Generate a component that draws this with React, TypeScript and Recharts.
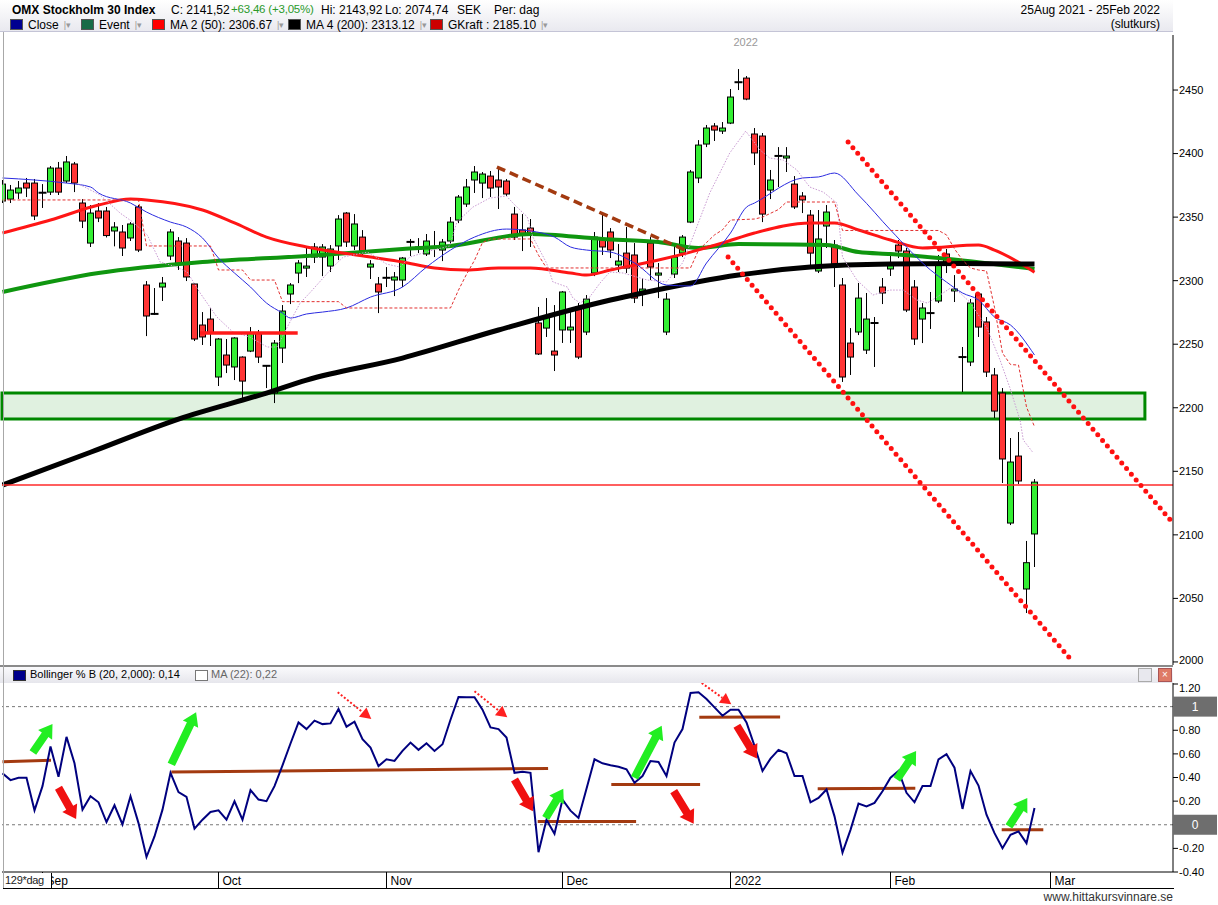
import React from 'react';
import { ComposedChart, Bar, Line, XAxis, YAxis, ReferenceLine, ReferenceArea } from 'recharts';

const FONT = '"Liberation Sans", Arial, Helvetica, sans-serif';

// ---- daily candles (trading-day index 0 = 25 Aug 2021 ... 129 = 25 Feb 2022)
const openArr = [
  2362.7, 2364.2, 2369.0, 2376.8, 2376.8, 2369.4, 2369.7, 2388.6, 2378.4, 2391.8,
  2361.1, 2329.6, 2354.8, 2354.8, 2339.1, 2338.3, 2333.6, 2358.0, 2296.6, 2274.0,
  2295.0, 2319.4, 2331.2, 2329.6, 2297.4, 2265.1, 2269.8, 2224.2, 2241.5, 2232.1,
  2239.9, 2244.6, 2258.8, 2233.2, 2211.6, 2247.0, 2289.5, 2306.0, 2309.9, 2318.6,
  2318.6, 2311.5, 2327.3, 2353.2, 2327.3, 2334.3, 2310.7, 2297.4, 2302.4, 2300.5,
  2300.5, 2330.6, 2326.5, 2321.0, 2326.7, 2324.1, 2331.2, 2347.7, 2360.3, 2379.2,
  2376.8, 2382.3, 2379.2, 2378.4, 2352.4, 2339.9, 2341.4, 2266.7, 2262.7, 2244.6,
  2261.2, 2261.2, 2279.3, 2259.6, 2306.0, 2332.8, 2338.3, 2312.3, 2321.7, 2320.2,
  2289.5, 2329.6, 2304.4, 2259.6, 2305.2, 2321.7, 2346.1, 2380.8, 2407.5, 2421.7,
  2417.7, 2424.0, 2456.3, 2459.4, 2415.4, 2413.8, 2371.3, 2398.3, 2396.5, 2376.0,
  2366.6, 2351.6, 2307.6, 2343.0, 2328.0, 2296.6, 2250.9, 2259.6, 2245.4, 2266.9,
  2295.0, 2309.2, 2328.0, 2323.3, 2295.0, 2269.8, 2274.3, 2284.0, 2321.0, 2291.9,
  2240.1, 2236.0, 2289.5, 2267.5, 2225.8, 2211.6, 2109.3, 2162.0, 2057.4, 2100.7,
];
const highArr = [
  2379.2, 2375.3, 2378.4, 2380.8, 2380.0, 2376.0, 2390.2, 2393.4, 2398.1, 2393.4,
  2364.2, 2359.5, 2361.1, 2358.0, 2346.1, 2343.8, 2346.1, 2359.5, 2299.7, 2294.2,
  2302.9, 2340.6, 2334.3, 2333.5, 2298.1, 2275.3, 2278.3, 2254.9, 2254.1, 2255.5,
  2240.5, 2263.5, 2261.2, 2233.6, 2253.3, 2280.8, 2298.1, 2316.2, 2326.5, 2329.6,
  2328.8, 2328.0, 2351.6, 2354.0, 2352.4, 2339.8, 2316.2, 2302.9, 2310.7, 2306.8,
  2318.6, 2332.8, 2333.5, 2336.7, 2339.1, 2332.8, 2350.1, 2367.4, 2380.0, 2390.2,
  2385.5, 2386.3, 2389.4, 2380.0, 2358.0, 2352.4, 2348.5, 2279.3, 2286.3, 2280.8,
  2291.8, 2275.3, 2282.4, 2288.7, 2338.3, 2352.4, 2341.4, 2328.8, 2342.2, 2329.6,
  2302.1, 2334.3, 2313.9, 2290.3, 2328.0, 2335.9, 2387.1, 2410.6, 2422.5, 2424.0,
  2424.8, 2450.8, 2466.5, 2461.0, 2420.1, 2416.2, 2387.1, 2405.1, 2405.1, 2382.3,
  2369.7, 2355.6, 2355.6, 2359.5, 2332.0, 2302.1, 2262.7, 2298.2, 2290.3, 2271.4,
  2302.1, 2321.8, 2332.0, 2325.7, 2300.5, 2282.4, 2291.1, 2320.2, 2324.9, 2304.4,
  2247.8, 2285.6, 2291.1, 2271.4, 2231.3, 2215.5, 2176.2, 2180.9, 2095.2, 2143.9,
];
const lowArr = [
  2361.1, 2361.1, 2364.3, 2365.8, 2347.7, 2357.2, 2367.4, 2367.4, 2376.8, 2369.7,
  2341.4, 2326.5, 2346.1, 2334.0, 2327.0, 2319.4, 2331.2, 2322.5, 2256.4, 2273.0,
  2284.0, 2316.2, 2308.4, 2299.7, 2252.5, 2249.4, 2248.6, 2217.1, 2227.3, 2221.8,
  2206.1, 2243.8, 2235.2, 2215.5, 2203.7, 2235.2, 2281.6, 2298.1, 2302.9, 2313.9,
  2303.6, 2306.8, 2316.2, 2326.5, 2324.1, 2320.2, 2301.3, 2274.5, 2295.0, 2287.9,
  2295.0, 2319.4, 2321.7, 2319.4, 2318.6, 2315.4, 2328.0, 2345.3, 2358.0, 2369.0,
  2365.0, 2365.8, 2356.4, 2366.6, 2332.0, 2323.3, 2326.5, 2241.5, 2255.7, 2228.9,
  2251.0, 2251.0, 2238.3, 2257.2, 2303.6, 2320.2, 2317.8, 2306.8, 2306.0, 2282.4,
  2280.0, 2300.5, 2286.3, 2257.2, 2302.1, 2318.6, 2345.3, 2376.8, 2405.1, 2409.9,
  2415.4, 2423.2, 2450.0, 2442.0, 2391.0, 2346.1, 2364.2, 2373.7, 2385.5, 2356.4,
  2353.2, 2312.3, 2306.0, 2325.7, 2295.0, 2220.3, 2225.8, 2257.2, 2242.3, 2232.1,
  2281.6, 2303.7, 2317.8, 2275.3, 2249.4, 2250.9, 2262.0, 2282.4, 2306.0, 2283.2,
  2212.4, 2232.8, 2255.7, 2224.2, 2191.9, 2140.8, 2107.7, 2140.0, 2038.5, 2074.7,
];
const closeArr = [
  2376.0, 2371.3, 2372.9, 2372.9, 2350.9, 2369.0, 2388.6, 2369.7, 2393.4, 2376.8,
  2346.9, 2353.2, 2349.3, 2335.5, 2342.2, 2325.7, 2344.6, 2324.1, 2272.2, 2273.7,
  2298.1, 2338.3, 2313.1, 2302.9, 2254.1, 2255.7, 2258.8, 2254.1, 2233.6, 2254.9,
  2221.0, 2258.8, 2239.9, 2232.8, 2250.9, 2276.1, 2296.6, 2313.9, 2311.5, 2326.5,
  2326.5, 2324.9, 2348.5, 2330.4, 2344.6, 2323.3, 2313.1, 2291.1, 2302.1, 2302.9,
  2317.8, 2330.4, 2324.9, 2331.2, 2326.5, 2330.4, 2346.1, 2365.8, 2373.7, 2385.5,
  2383.9, 2372.9, 2373.7, 2368.2, 2334.3, 2336.7, 2335.9, 2242.3, 2271.4, 2241.5,
  2291.1, 2263.5, 2239.9, 2285.5, 2334.3, 2326.5, 2324.1, 2315.4, 2309.9, 2286.3,
  2293.4, 2310.7, 2306.0, 2285.5, 2318.6, 2334.3, 2385.5, 2406.7, 2420.1, 2418.5,
  2420.1, 2444.5, 2456.0, 2442.9, 2400.5, 2352.4, 2379.2, 2398.0, 2398.1, 2358.0,
  2363.5, 2321.7, 2332.8, 2354.0, 2313.1, 2224.2, 2239.9, 2286.3, 2269.8, 2266.5,
  2290.3, 2313.1, 2323.3, 2276.9, 2254.1, 2278.5, 2274.7, 2313.9, 2313.9, 2293.4,
  2239.7, 2282.4, 2263.5, 2228.1, 2197.4, 2159.7, 2157.3, 2142.4, 2078.1, 2141.5,
];

// ---- Bollinger %B (20, 2)
const pctB = [
  0.435, 0.378, 0.398, 0.398, 0.122, 0.327, 0.662, 0.406, 0.744, 0.520,
  0.128, 0.241, 0.190, 0.023, 0.165, 0.003, 0.241, 0.014, -0.273, -0.099,
  0.128, 0.440, 0.276, 0.236, -0.034, 0.043, 0.108, 0.122, 0.043, 0.199,
  0.043, 0.293, 0.213, 0.199, 0.327, 0.503, 0.688, 0.866, 0.810, 0.881,
  0.852, 0.858, 0.980, 0.830, 0.872, 0.724, 0.653, 0.497, 0.554, 0.540,
  0.625, 0.696, 0.634, 0.690, 0.625, 0.682, 0.889, 1.082, 1.080, 1.080,
  0.974, 0.824, 0.810, 0.739, 0.440, 0.449, 0.440, -0.233, 0.043, -0.077,
  0.213, 0.119, 0.057, 0.304, 0.554, 0.520, 0.503, 0.491, 0.469, 0.355,
  0.412, 0.540, 0.531, 0.412, 0.696, 0.810, 1.116, 1.122, 1.065, 0.994,
  0.923, 0.974, 0.974, 0.866, 0.668, 0.455, 0.560, 0.634, 0.605, 0.412,
  0.412, 0.190, 0.227, 0.298, 0.071, -0.236, -0.043, 0.179, 0.156, 0.185,
  0.284, 0.398, 0.455, 0.270, 0.190, 0.327, 0.327, 0.554, 0.597, 0.483,
  0.134, 0.455, 0.332, 0.085, -0.071, -0.199, -0.085, -0.057, -0.156, 0.142,
];

// ---- moving averages / indicator lines, read as [index, value]
const ma200Pts = [[0, 2139.2], [11, 2165], [22, 2191.1], [33, 2211.6], [38, 2221.8], [50, 2239.1], [62, 2261.2], [76, 2284.8], [80, 2290.3], [92, 2304.4], [101, 2310.7], [111, 2313.1], [120, 2313.5], [129, 2313.1]];
const ma100Pts = [[0, 2291.1], [12, 2306.0], [25, 2314.7], [38, 2319.4], [50, 2324.9], [56, 2327.3], [66, 2336.7], [75, 2332.8], [82, 2330.4], [87, 2325.7], [92, 2328.8], [103, 2328.0], [107, 2322.5], [111, 2320.9], [117, 2317.8], [129, 2309.2]];
const ma50Pts = [[0, 2337.5], [6, 2347.7], [12, 2359.5], [16, 2364.2], [18, 2363.5], [25, 2355.6], [29, 2345.4], [33, 2334.3], [38, 2326.5], [46, 2318.6], [50, 2314.7], [54, 2310.0], [58, 2308.4], [62, 2310.0], [66, 2310.0], [71, 2306.0], [73, 2304.4], [76, 2308.4], [82, 2316.2], [86, 2322.5], [90, 2329.6], [94, 2337.5], [101, 2345.4], [104, 2345.4], [107, 2339.9], [111, 2332.0], [115, 2325.7], [122, 2328.0], [124, 2324.1], [129, 2306.7]];
const ma20Pts = [[0, 2380.8], [4, 2379.2], [8, 2376.8], [11, 2373.7], [12, 2369.0], [16, 2361.1], [18, 2354.0], [21, 2346.1], [23, 2342.2], [25, 2333.6], [27, 2317.8], [29, 2306.0], [31, 2295.0], [33, 2282.4], [35, 2274.5], [36, 2270.6], [38, 2273.8], [40, 2275.3], [43, 2278.5], [46, 2287.1], [50, 2295.0], [53, 2310.7], [56, 2324.1], [59, 2334.3], [63, 2340.6], [66, 2339.1], [69, 2334.3], [71, 2326.5], [73, 2324.1], [76, 2322.5], [79, 2313.9], [83, 2296.6], [86, 2295.8], [88, 2313.9], [91, 2337.5], [93, 2357.9], [94, 2361.1], [100, 2380.8], [102, 2381.6], [104, 2384.7], [107, 2367.4], [111, 2339.9], [116, 2308.4], [118, 2298.9], [120, 2290.3], [122, 2284.8], [124, 2271.4], [126, 2265.1], [129, 2241.5]];
const gkraftPts = [[0, 2363.5], [17, 2363.5], [18, 2327.3], [26, 2327.3], [27, 2308.4], [30, 2308.4], [31, 2300.5], [34, 2300.5], [35, 2283.5], [42, 2283.5], [43, 2278.5], [56, 2278.5], [57, 2292.6], [58, 2305], [59, 2316], [60, 2330], [61, 2332.8], [66, 2332.8], [67, 2320], [68, 2310], [86, 2310], [87, 2324], [88, 2330], [89, 2336], [90, 2340], [91, 2347.7], [94, 2348.5], [95, 2350], [96, 2353], [97, 2356], [98, 2361.9], [104, 2361.9], [105, 2339.5], [117, 2339.5], [118, 2336], [119, 2325], [120, 2316.2], [121, 2310], [122, 2308.4], [123, 2307.6], [124, 2279], [125, 2243], [126, 2234], [127, 2233.6], [128, 2200.6], [129, 2185.1]];
const fastPts = [[9.3, 2376.8], [12.2, 2367.4], [14.7, 2353.2], [16.3, 2346.1], [18.1, 2335.9], [19.7, 2314.7], [21.8, 2310.7], [23.1, 2306.8], [24.7, 2290.3], [26.8, 2271.4], [28.8, 2259.6], [30.9, 2255.7], [33.1, 2247.8], [34.3, 2247.8], [35.6, 2263.5], [37.2, 2282.4], [38.4, 2290.3], [41.3, 2310.7], [42.6, 2318.6], [45.6, 2322.5], [46.3, 2320.2], [48, 2313.1], [49.7, 2310.7], [50.9, 2318.6], [53.8, 2324.1], [55.9, 2327.3], [56.8, 2346.1], [58.8, 2357.9], [60.9, 2365.0], [63, 2366.6], [63.8, 2361.1], [65.6, 2350.1], [66.3, 2334.3], [68, 2313.9], [68.8, 2299.0], [70.6, 2295.0], [71.3, 2286.3], [72.2, 2282.4], [73.4, 2287.1], [74.7, 2298.2], [75.9, 2306.8], [77.6, 2306.0], [80.6, 2300.5], [83, 2299.0], [85, 2313.9], [86.3, 2334.3], [88.4, 2368.9], [90.9, 2400.4], [92.9, 2417.7], [94.7, 2402.8], [95.9, 2396.5], [97.6, 2394.9], [99.3, 2387.1], [100.9, 2373.7], [102.6, 2369.7], [104.3, 2361.1], [105, 2318.6], [106.8, 2300.5], [108.8, 2288.7], [110.9, 2292.6], [112.6, 2292.6], [114.3, 2284.8], [115.6, 2282.4], [116.8, 2287.1], [118.5, 2294.2], [119.7, 2290.3], [120.9, 2283.2], [123, 2263.5], [124.7, 2237.4], [125.9, 2216.1], [127.2, 2190.2], [127.6, 2174.6], [128.8, 2164.8]];

// ---- axes
const priceTicks = [2000, 2050, 2100, 2150, 2200, 2250, 2300, 2350, 2400, 2450];
const pbTicks = [-0.4, -0.2, 0, 0.2, 0.4, 0.6, 0.8, 1, 1.2];
const monthTickIdx = [5, 27, 48, 70, 91, 111, 131];
const monthTickLabels = ['Sep', 'Oct', 'Nov', 'Dec', '2022', 'Feb', 'Mar'];
const X_DOMAIN: [number, number] = [-0.0625, 146.3125];
const PRICE_DOMAIN: [number, number] = [1997.6, 2493.3];
const PB_DOMAIN: [number, number] = [-0.4, 1.2];

// ---- drawn annotations (data coordinates)
const supportZone = { x1: -0.0625, x2: 142.8, y1: 2191.2, y2: 2211.6 };
const horizontalLevel = 2139.2;
const shortLevel = { x1: 24.7, x2: 36.9, y: 2258.8 };
const brownTrend = [[61.8, 2389.4], [85.7, 2323.0]];
const channelUpper = [[105.7, 2409.1], [146.2, 2110.1]];
const channelLower = [[90.7, 2318.6], [133.6, 2001.5]];

const pbLevels = [[0, 0.534, 6.06, 0.545], [21.1, 0.446, 68.2, 0.477], [66.9, 0.028, 79.2, 0.028], [76.1, 0.341, 87.2, 0.341], [87.1, 0.91, 97.2, 0.912], [101.9, 0.304, 114.1, 0.31], [124.9, -0.043, 130.1, -0.043]];
const greenArrows = [[3.8, 0.611, 6.25, 0.852], [21.1, 0.511, 24.2, 0.952], [67.9, 0.057, 70.1, 0.304], [79.0, 0.398, 82.4, 0.838], [111.8, 0.384, 114.2, 0.625], [125.8, -0.014, 128.1, 0.227]];
const redArrows = [[7.0, 0.3125, 9.2, 0.048], [64.0, 0.384, 66.3, 0.114], [83.9, 0.284, 86.4, 0.009], [91.8, 0.838, 94.3, 0.56]];
const dottedArrows = [[41.9, 1.122, 46.1, 0.895], [59.0, 1.13, 63.1, 0.909], [87.4, 1.2, 91.1, 1.02]];

const candles = openArr.map((o, i) => ({ i, o, h: highArr[i], l: lowArr[i], c: closeArr[i] }));
const toObjs = (pts: number[][]) => pts.map(([i, v]) => ({ i, v }));
const pbData = pctB.map((v, i) => ({ i, v }));

function Candle(props: any) {
  const { x, y, width, height, payload } = props;
  if (payload == null || x == null || y == null) return null;
  const { o, h, l, c } = payload;
  const cx = Math.round(x + width / 2) + 0.5;
  const span = h - l || 1;
  const py = (v: number) => y + ((h - v) / span) * height;
  const top = py(Math.max(o, c));
  const bot = py(Math.min(o, c));
  const wick = <line x1={cx} x2={cx} y1={y} y2={y + height} stroke="#000" strokeWidth={1} />;
  if (bot - top < 1.2) {
    const m = (top + bot) / 2;
    return (
      <g>
        {wick}
        <line x1={cx - 4} x2={cx + 4} y1={m} y2={m} stroke="#000" strokeWidth={2} />
      </g>
    );
  }
  return (
    <g>
      {wick}
      <rect x={cx - 3} y={top} width={6} height={bot - top} fill={c >= o ? '#33ee33' : '#ff3535'} stroke="#000" strokeWidth={1} />
    </g>
  );
}

function BlockArrow(p: any) {
  const { x1, y1, x2, y2, color } = p;
  const dx = x2 - x1, dy = y2 - y1;
  const len = Math.hypot(dx, dy) || 1;
  const ux = dx / len, uy = dy / len, nx = -uy, ny = ux;
  const sh = 4, hw = 8.5, hl = 13;
  const bx = x2 - ux * hl, by = y2 - uy * hl;
  const pts = [
    [x1 + nx * sh, y1 + ny * sh], [bx + nx * sh, by + ny * sh], [bx + nx * hw, by + ny * hw], [x2, y2],
    [bx - nx * hw, by - ny * hw], [bx - nx * sh, by - ny * sh], [x1 - nx * sh, y1 - ny * sh],
  ].map((q) => q.join(',')).join(' ');
  return <polygon points={pts} fill={color} />;
}

function DottedArrow(p: any) {
  const { x1, y1, x2, y2 } = p;
  const dx = x2 - x1, dy = y2 - y1;
  const len = Math.hypot(dx, dy) || 1;
  const ux = dx / len, uy = dy / len, nx = -uy, ny = ux;
  const hw = 6, hl = 11;
  const bx = x2 - ux * hl, by = y2 - uy * hl;
  const pts = [[bx + nx * hw, by + ny * hw], [x2, y2], [bx - nx * hw, by - ny * hw]].map((q) => q.join(',')).join(' ');
  return (
    <g>
      <line x1={x1} y1={y1} x2={bx} y2={by} stroke="#ff2020" strokeWidth={2} strokeDasharray="2 2" />
      <polygon points={pts} fill="#ff2020" />
    </g>
  );
}

function PriceTick(props: any) {
  const { x, y, payload } = props;
  const ty = payload.value === 2000 ? y - 2 : y;
  return (
    <text x={x} y={ty} dy="0.355em" fill="#000" fontSize={11} fontFamily={FONT}>{payload.value}</text>
  );
}

function PbTick(props: any) {
  const { x, y, payload } = props;
  const v = payload.value;
  const ax = x - 6;
  if (v === 1 || v === 0) {
    return (
      <g>
        <rect x={ax} y={y - 10} width={44} height={20} fill="#6e6e6e" />
        <text x={ax + 22} y={y} dy="0.35em" textAnchor="middle" fill="#fff" fontSize={12} fontFamily={FONT}>{String(v)}</text>
      </g>
    );
  }
  const ty = v === 1.2 ? y + 5 : y;
  return (
    <g>
      <line x1={ax} x2={ax + 5} y1={y + (v === 1.2 ? 1 : 0)} y2={y + (v === 1.2 ? 1 : 0)} stroke="#000" />
      <text x={x} y={ty} dy="0.35em" fill="#000" fontSize={11} fontFamily={FONT}>{v.toFixed(2)}</text>
    </g>
  );
}

function MonthTick(props: any) {
  const { x, y, payload } = props;
  const k = monthTickIdx.indexOf(payload.value);
  return (
    <g>
      <line x1={x} x2={x} y1={y} y2={y + 16} stroke="#000" />
      <text x={x + 4} y={y + 12.5} fontSize={12} fill="#000" fontFamily={FONT}>{monthTickLabels[k]}</text>
    </g>
  );
}

const legendItems = [
  { left: 13, color: '#000090', label: 'Close' },
  { left: 84, color: '#176b46', label: 'Event' },
  { left: 155, color: '#ff0000', label: 'MA 2 (50): 2306.67' },
  { left: 291, color: '#000000', label: 'MA 4 (200): 2313.12' },
  { left: 433, color: '#cc0000', label: 'GKraft : 2185.10' },
];

const abs = (s: React.CSSProperties): React.CSSProperties => ({ position: 'absolute', whiteSpace: 'nowrap', ...s });

export default function App() {
  return (
    <div style={{ position: 'fixed', left: 0, top: 0, width: 1218, height: 905, background: '#fff', fontFamily: FONT, overflow: 'hidden', color: '#000' }}>
      {/* header */}
      <div style={abs({ left: 0, top: 0, width: 1173, height: 32, background: 'linear-gradient(#ffffff, #e9e9ef)', borderBottom: '1px solid #c4c4d6', boxSizing: 'border-box' })}>
        <span style={abs({ left: 12, top: 3, fontSize: 12, fontWeight: 'bold' })}>OMX Stockholm 30 Index</span>
        <span style={abs({ left: 171, top: 3, fontSize: 12 })}>C: 2141,52</span>
        <span style={abs({ left: 231, top: 3, fontSize: 11.5, letterSpacing: -0.2, color: '#2a9a2a' })}>+63,46 (+3,05%)</span>
        <span style={abs({ left: 321, top: 3, fontSize: 12 })}>Hi: 2143,92</span>
        <span style={abs({ left: 385, top: 3, fontSize: 12 })}>Lo: 2074,74</span>
        <span style={abs({ left: 457, top: 3, fontSize: 12 })}>SEK</span>
        <span style={abs({ left: 494, top: 3, fontSize: 12 })}>Per: dag</span>
        {legendItems.map((it) => (
          <div key={it.label} style={abs({ left: it.left - 3, top: 18, height: 13, display: 'flex', alignItems: 'center', gap: 5, fontSize: 12 })}>
            <span style={{ display: 'inline-block', width: 11, height: 9, background: it.color, border: '1px solid #555' }} />
            <span>{it.label}</span>
            <span style={{ color: '#999', fontSize: 9 }}>|▾</span>
          </div>
        ))}
        <span style={abs({ right: 13, top: 3, fontSize: 12 })}>25Aug 2021 - 25Feb 2022</span>
        <span style={abs({ right: 13, top: 17, fontSize: 12 })}>(slutkurs)</span>
      </div>

      {/* main price panel */}
      <div style={abs({ left: 0, top: 35 })}>
        <ComposedChart width={1218} height={630} data={candles} margin={{ top: 0, right: 0, bottom: 0, left: 2 }}>
          <XAxis type="number" dataKey="i" domain={X_DOMAIN} hide allowDataOverflow />
          <YAxis
            orientation="right"
            type="number"
            domain={PRICE_DOMAIN}
            ticks={priceTicks}
            width={45}
            allowDataOverflow
            interval={0}
            tickSize={5}
            tickMargin={1}
            axisLine={{ stroke: '#000' }}
            tickLine={{ stroke: '#000' }}
            tick={(p: any) => <PriceTick {...p} />}
          />
          <Line data={toObjs(ma100Pts)} dataKey="v" type="monotone" stroke="#0f960f" strokeWidth={4} dot={false} isAnimationActive={false} />
          <Line data={toObjs(ma50Pts)} dataKey="v" type="monotone" stroke="#ff1515" strokeWidth={3} dot={false} isAnimationActive={false} />
          <Line data={toObjs(ma200Pts)} dataKey="v" type="monotone" stroke="#000" strokeWidth={5} dot={false} isAnimationActive={false} />
          <Line data={toObjs(ma20Pts)} dataKey="v" type="monotone" stroke="#2b2be0" strokeWidth={1} dot={false} isAnimationActive={false} />
          <Line data={toObjs(fastPts)} dataKey="v" type="linear" stroke="#c99ad2" strokeWidth={1} strokeDasharray="1.5 1.5" dot={false} isAnimationActive={false} />
          <Line data={toObjs(gkraftPts)} dataKey="v" type="linear" stroke="#e23030" strokeWidth={1} strokeDasharray="3 2" dot={false} isAnimationActive={false} />
          <Bar dataKey={(d: any) => [d.l, d.h]} shape={(p: any) => <Candle {...p} />} barSize={6} isAnimationActive={false} />
          <ReferenceArea x1={supportZone.x1} x2={supportZone.x2} y1={supportZone.y1} y2={supportZone.y2} fill="#008800" fillOpacity={0.12} stroke="#008800" strokeWidth={3} strokeOpacity={1} ifOverflow="visible" />
          <ReferenceLine y={horizontalLevel} stroke="#ff2a2a" strokeWidth={1.5} ifOverflow="visible" />
          <ReferenceLine segment={[{ x: shortLevel.x1, y: shortLevel.y }, { x: shortLevel.x2, y: shortLevel.y }]} stroke="#ff1a1a" strokeWidth={3.5} ifOverflow="visible" />
          <ReferenceLine segment={[{ x: brownTrend[0][0], y: brownTrend[0][1] }, { x: brownTrend[1][0], y: brownTrend[1][1] }]} stroke="#a33a10" strokeWidth={3.5} strokeDasharray="9 5" ifOverflow="visible" />
          <ReferenceLine segment={[{ x: channelUpper[0][0], y: channelUpper[0][1] }, { x: channelUpper[1][0], y: channelUpper[1][1] }]} stroke="#ff1010" strokeWidth={5} strokeLinecap="round" strokeDasharray="0 7.4" ifOverflow="visible" />
          <ReferenceLine segment={[{ x: channelLower[0][0], y: channelLower[0][1] }, { x: channelLower[1][0], y: channelLower[1][1] }]} stroke="#ff1010" strokeWidth={5} strokeLinecap="round" strokeDasharray="0 7.4" ifOverflow="visible" />
          <ReferenceLine x={91} stroke="none" ifOverflow="visible" label={{ value: '2022', position: 'insideTopLeft', offset: 3, fill: '#9a9a9a', fontSize: 11, fontFamily: FONT }} />
        </ComposedChart>
      </div>

      {/* lower panel header */}
      <div style={abs({ left: 0, top: 665, width: 1173, height: 18, background: 'linear-gradient(#fafafc, #e6e6ec)', borderTop: '2px solid #8a8a8a', boxSizing: 'border-box' })}>
        <span style={abs({ left: 13, top: 3, width: 11, height: 9, background: '#00008b', border: '1px solid #333' })} />
        <span style={abs({ left: 30, top: 1, fontSize: 11 })}>Bollinger % B (20, 2,000): 0,14</span>
        <span style={abs({ left: 195, top: 3, width: 11, height: 9, background: '#fff', border: '1px solid #777' })} />
        <span style={abs({ left: 211, top: 1, fontSize: 11, color: '#666' })}>MA (22): 0,22</span>
        <span style={abs({ left: 1138, top: 1, width: 12, height: 12, background: '#e8e8ee', border: '1px solid #aaa' })} />
        <span style={abs({ left: 1158, top: 1, width: 12, height: 12, background: '#de7a66', border: '1px solid #a55', color: '#fff', fontSize: 10, lineHeight: '12px', textAlign: 'center' })}>×</span>
      </div>

      {/* lower %B panel */}
      <div style={abs({ left: 0, top: 683 })}>
        <ComposedChart width={1218} height={205} data={pbData} margin={{ top: 0, right: 0, bottom: 0, left: 2 }}>
          <XAxis
            type="number"
            dataKey="i"
            domain={X_DOMAIN}
            ticks={monthTickIdx}
            interval={0}
            height={16}
            tickSize={0}
            tickMargin={0}
            tickLine={false}
            axisLine={{ stroke: '#000' }}
            tick={(p: any) => <MonthTick {...p} />}
            allowDataOverflow
          />
          <YAxis
            orientation="right"
            type="number"
            domain={PB_DOMAIN}
            ticks={pbTicks}
            interval={0}
            width={45}
            tickSize={5}
            tickMargin={1}
            tickLine={false}
            axisLine={{ stroke: '#000' }}
            tick={(p: any) => <PbTick {...p} />}
            allowDataOverflow
          />
          <ReferenceLine y={1} stroke="#777" strokeDasharray="3 3" />
          <ReferenceLine y={0} stroke="#777" strokeDasharray="3 3" />
          {pbLevels.map((s, k) => (
            <ReferenceLine key={'lv' + k} segment={[{ x: s[0], y: s[1] }, { x: s[2], y: s[3] }]} stroke="#a33a10" strokeWidth={3} ifOverflow="visible" />
          ))}
          <Line dataKey="v" type="linear" stroke="#00007f" strokeWidth={2} dot={false} isAnimationActive={false} />
          {greenArrows.map((s, k) => (
            <ReferenceLine key={'ga' + k} segment={[{ x: s[0], y: s[1] }, { x: s[2], y: s[3] }]} ifOverflow="visible" shape={(p: any) => <BlockArrow {...p} color="#22ee22" />} />
          ))}
          {redArrows.map((s, k) => (
            <ReferenceLine key={'ra' + k} segment={[{ x: s[0], y: s[1] }, { x: s[2], y: s[3] }]} ifOverflow="visible" shape={(p: any) => <BlockArrow {...p} color="#f01010" />} />
          ))}
          {dottedArrows.map((s, k) => (
            <ReferenceLine key={'da' + k} segment={[{ x: s[0], y: s[1] }, { x: s[2], y: s[3] }]} ifOverflow="visible" shape={(p: any) => <DottedArrow {...p} />} />
          ))}
        </ComposedChart>
      </div>

      {/* frame details */}
      <div style={abs({ left: 3, top: 32, width: 1, height: 857, background: '#a8a8a8' })} />
      <div style={abs({ left: 3, top: 888, width: 1171, height: 1, background: '#000' })} />
      <div style={abs({ left: 4, top: 873, width: 48, height: 15, background: '#fff', borderRight: '1px solid #000', fontSize: 11, letterSpacing: -0.3, lineHeight: '15px', paddingLeft: 1, color: '#222', boxSizing: 'border-box' })}>129*dag</div>
      <span style={abs({ right: 45, top: 890, fontSize: 12, lineHeight: '14px', color: '#333' })}>www.hittakursvinnare.se</span>
    </div>
  );
}
